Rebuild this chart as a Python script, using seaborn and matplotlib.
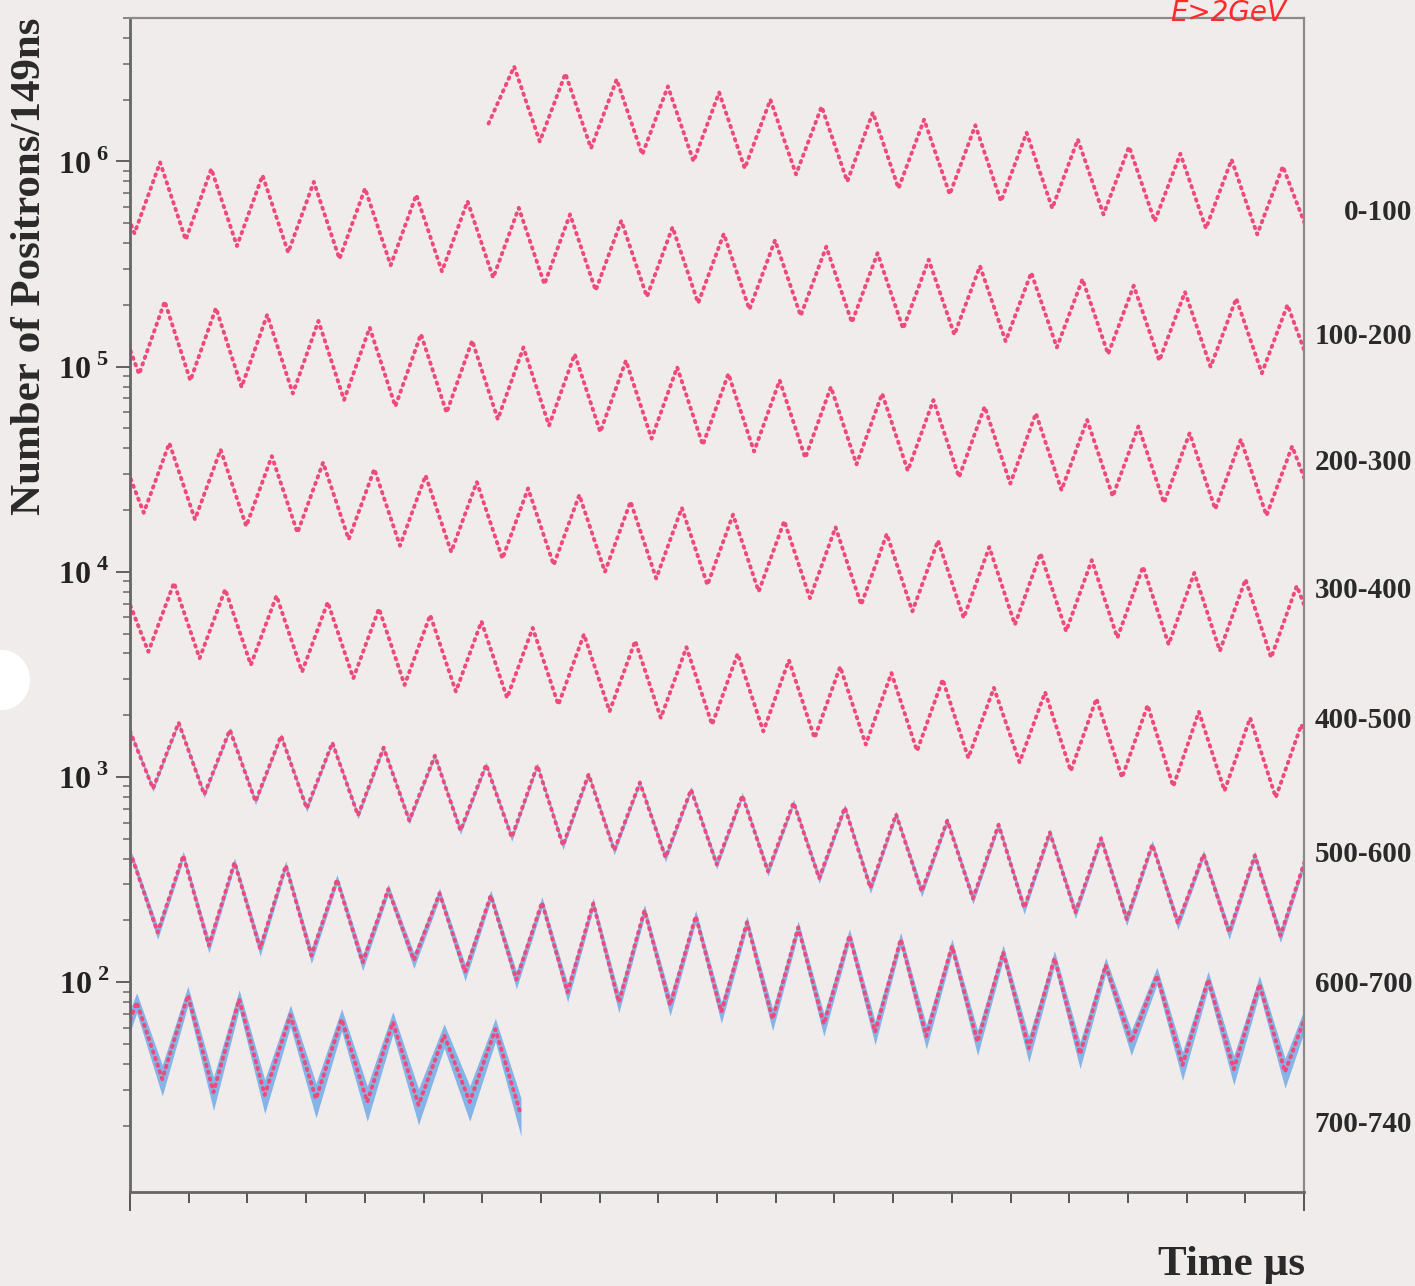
import numpy as np
import pandas as pd
import seaborn as sns
import matplotlib.pyplot as plt
from matplotlib.ticker import LogLocator, MultipleLocator, NullFormatter
from matplotlib.patches import Ellipse

# Positron counts per 149 ns bin at the successive
# extremes of the wiggle (trough, peak, trough, ...). The first reading is
# at t_first and they follow each other every half g-2 period.
t_first = 30.54        # us
half_period = 2.1825   # us
wrap = 100.0           # each row of the plot holds 100 us

counts_0_100 = [1.53e6, 2.90e6, 1.25e6, 2.68e6, 1.16e6, 2.51e6, 1.08e6, 2.32e6,
                1.00e6, 2.17e6, 9.25e5, 2.00e6, 8.65e5, 1.85e6, 7.99e5, 1.73e6,
                7.39e5, 1.60e6, 6.91e5, 1.50e6, 6.39e5, 1.38e6, 5.91e5, 1.28e6,
                5.52e5, 1.18e6, 5.11e5, 1.09e6, 4.72e5, 1.02e6, 4.41e5, 9.46e5]
counts_100_200 = [4.46e5, 9.89e5, 4.15e5, 9.20e5, 3.87e5, 8.55e5, 3.60e5, 7.95e5,
                  3.35e5, 7.39e5, 3.12e5, 6.87e5, 2.91e5, 6.39e5, 2.71e5, 5.94e5,
                  2.52e5, 5.52e5, 2.35e5, 5.14e5, 2.19e5, 4.78e5, 2.04e5, 4.44e5,
                  1.90e5, 4.13e5, 1.77e5, 3.84e5, 1.64e5, 3.57e5, 1.53e5, 3.32e5,
                  1.43e5, 3.09e5, 1.33e5, 2.87e5, 1.24e5, 2.67e5, 1.15e5, 2.48e5,
                  1.07e5, 2.31e5, 9.97e4, 2.15e5, 9.29e4, 2.00e5]
counts_200_300 = [9.19e4, 2.08e5, 8.55e4, 1.93e5, 7.95e4, 1.79e5, 7.40e4, 1.67e5,
                  6.88e4, 1.55e5, 6.40e4, 1.44e5, 5.96e4, 1.34e5, 5.54e4, 1.24e5,
                  5.16e4, 1.15e5, 4.80e4, 1.07e5, 4.46e4, 9.94e4, 4.15e4, 9.23e4,
                  3.86e4, 8.57e4, 3.59e4, 7.96e4, 3.34e4, 7.39e4, 3.11e4, 6.87e4,
                  2.89e4, 6.38e4, 2.69e4, 5.92e4, 2.50e4, 5.50e4, 2.33e4, 5.11e4,
                  2.17e4, 4.74e4, 2.02e4, 4.41e4, 1.88e4, 4.09e4]
counts_300_400 = [1.94e4, 4.24e4, 1.80e4, 3.94e4, 1.67e4, 3.66e4, 1.55e4, 3.41e4,
                  1.44e4, 3.17e4, 1.34e4, 2.95e4, 1.25e4, 2.74e4, 1.16e4, 2.55e4,
                  1.08e4, 2.37e4, 1.00e4, 2.20e4, 9.29e3, 2.05e4, 8.63e3, 1.90e4,
                  8.01e3, 1.77e4, 7.44e3, 1.65e4, 6.91e3, 1.53e4, 6.42e3, 1.42e4,
                  5.96e3, 1.32e4, 5.53e3, 1.23e4, 5.14e3, 1.14e4, 4.77e3, 1.06e4,
                  4.43e3, 9.88e3, 4.12e3, 9.19e3, 3.82e3, 8.54e3]
counts_400_500 = [4.08e3, 8.84e3, 3.79e3, 8.22e3, 3.52e3, 7.65e3, 3.26e3, 7.12e3,
                  3.03e3, 6.62e3, 2.81e3, 6.16e3, 2.61e3, 5.73e3, 2.43e3, 5.33e3,
                  2.25e3, 4.96e3, 2.09e3, 4.61e3, 1.94e3, 4.29e3, 1.80e3, 3.99e3,
                  1.67e3, 3.71e3, 1.55e3, 3.45e3, 1.44e3, 3.21e3, 1.34e3, 2.99e3,
                  1.24e3, 2.72e3, 1.18e3, 2.59e3, 1.07e3, 2.41e3, 9.94e2, 2.24e3,
                  9.00e2, 2.08e3, 8.57e2, 1.94e3, 7.95e2, 1.80e3]
counts_500_600 = [8.79e2, 1.84e3, 8.22e2, 1.70e3, 7.60e2, 1.59e3, 7.03e2, 1.47e3,
                  6.50e2, 1.39e3, 6.14e2, 1.27e3, 5.49e2, 1.15e3, 5.08e2, 1.14e3,
                  4.64e2, 1.03e3, 4.39e2, 9.40e2, 4.06e2, 8.69e2, 3.75e2, 8.13e2,
                  3.47e2, 7.51e2, 3.21e2, 7.11e2, 2.88e2, 6.57e2, 2.77e2, 6.14e2,
                  2.56e2, 5.85e2, 2.30e2, 5.37e2, 2.19e2, 5.02e2, 2.03e2, 4.69e2,
                  1.94e2, 4.20e2, 1.75e2, 4.15e2, 1.69e2]
counts_600_700 = [4.06e2, 1.75e2, 4.15e2, 1.51e2, 3.84e2, 1.46e2, 3.71e2, 1.35e2,
                  3.17e2, 1.25e2, 2.84e2, 1.28e2, 2.71e2, 1.12e2, 2.65e2, 1.03e2,
                  2.45e2, 8.94e1, 2.42e2, 7.99e1, 2.24e2, 7.73e1, 2.10e2, 7.15e1,
                  1.96e2, 6.61e1, 1.85e2, 6.25e1, 1.69e2, 5.71e1, 1.62e2, 5.46e1,
                  1.50e2, 5.11e1, 1.40e2, 4.77e1, 1.31e2, 4.46e1, 1.21e2, 5.11e1,
                  1.08e2, 3.95e1, 1.03e2, 3.77e1, 9.78e1, 3.65e1]
counts_700_740 = [7.99e1, 3.37e1, 8.64e1, 2.91e1, 8.27e1, 2.82e1, 6.91e1, 2.70e1,
                  6.61e1, 2.61e1, 6.39e1, 2.52e1, 5.52e1, 2.61e1, 5.90e1, 2.25e1]

row_labels = ["0-100", "100-200", "200-300", "300-400",
              "400-500", "500-600", "600-700", "700-740"]
ytick_vals = [1e2, 1e3, 1e4, 1e5, 1e6]
ytick_text = [r"$\mathbf{10}^{\;\mathbf{%d}}$" % e for e in range(2, 7)]

pink = "#ee4a7c"
blue = "#3d8fe3"
paper = "#f1ecec"

all_counts = np.concatenate([counts_0_100, counts_100_200, counts_200_300,
                             counts_300_400, counts_400_500, counts_500_600,
                             counts_600_700, counts_700_740])
t_abs = t_first + half_period * np.arange(len(all_counts))

# wrap the decay curve into rows of 100 us, one extra reading on each side
# so the curve runs through the frame edges
frames = []
for r in range(len(row_labels)):
    sel = (t_abs >= r * wrap - half_period) & (t_abs < (r + 1) * wrap + half_period)
    frames.append(pd.DataFrame({"time": t_abs[sel] - r * wrap,
                                "counts": all_counts[sel], "row": r}))
df = pd.concat(frames, ignore_index=True)

sns.set_theme(style="ticks")
plt.rcParams["font.family"] = ["Liberation Serif", "DejaVu Serif"]
plt.rcParams["mathtext.fontset"] = "custom"
plt.rcParams["mathtext.rm"] = "Liberation Serif"
plt.rcParams["mathtext.bf"] = "Liberation Serif:bold"

fig = plt.figure(figsize=(14.15, 12.86), dpi=100, facecolor=paper)
ax = fig.add_axes([130 / 1415, 1 - 1192 / 1286, 1174 / 1415, 1174 / 1286])
ax.set_facecolor(paper)
ax.set_yscale("log")

# statistical error bars show up as a blue fuzz on the low-count rows
for r, sub in df.groupby("row"):
    if sub["counts"].min() < 300:
        err = np.sqrt(sub["counts"])
        ax.fill_between(sub["time"], sub["counts"] - err, sub["counts"] + err,
                        color=blue, alpha=0.6, lw=0, zorder=1)

sns.lineplot(data=df, x="time", y="counts", units="row", estimator=None,
             sort=False, color=pink, lw=2.8, ls=(0, (0.4, 1.4)),
             legend=False, ax=ax, zorder=2)
for line in ax.lines:
    line.set_dash_capstyle("round")

ax.set_xlim(0, 100)
ax.set_ylim(9.5, 5e6)
ax.set_xlabel("")
ax.set_ylabel("")

ax.set_xticks([0, 100])
ax.xaxis.set_minor_locator(MultipleLocator(5))
ax.tick_params(axis="x", which="major", length=14, width=1.4, color="#555555",
               labelbottom=False)
ax.tick_params(axis="x", which="minor", length=8, width=1.4, color="#555555")
ax.set_yticks(ytick_vals, labels=ytick_text)
ax.yaxis.set_minor_locator(LogLocator(base=10, subs=np.arange(2, 10)))
ax.yaxis.set_minor_formatter(NullFormatter())
ax.tick_params(axis="y", which="major", length=10, width=1.3, color="#555555",
               pad=5, labelsize=23, labelcolor="#222222")
ax.tick_params(axis="y", which="minor", length=5, width=1.1, color="#666666")

for side in ["top", "right"]:
    ax.spines[side].set_visible(True)
    ax.spines[side].set_color("#8a8a8a")
    ax.spines[side].set_linewidth(1.6)
for side in ["left", "bottom"]:
    ax.spines[side].set_color("#666666")
    ax.spines[side].set_linewidth(2.0)

fig.text(30 / 1415, 1 - 266 / 1286, "Number of Positrons/149ns", rotation=90,
         ha="center", va="center", fontsize=31, fontweight="bold", color="#2a2a2a")
fig.text(1305 / 1415, 1 - 1275 / 1286, "Time \u00b5s", ha="right", va="baseline",
         fontsize=31, fontweight="bold", color="#2a2a2a")

label_y = [212, 337, 462, 590, 720, 855, 985, 1125]
for lab, y in zip(row_labels, label_y):
    fig.text(1412 / 1415, 1 - y / 1286, lab, ha="right", va="center",
             fontsize=21, fontweight="bold", color="#2a2a2a")

# handwritten note at the top edge and the punched hole of the scanned page
fig.text(1228 / 1415, 1 - 21 / 1286, "E>2GeV", ha="center", va="baseline",
         fontsize=20, color="#ff2a2a", family="DejaVu Sans", style="italic")
fig.patches.append(Ellipse((2 / 1415, 1 - 680 / 1286), 56 / 1415, 60 / 1286,
                           transform=fig.transFigure, facecolor="white",
                           edgecolor="none"))

fig.savefig("out.png", dpi=100, facecolor=paper)
